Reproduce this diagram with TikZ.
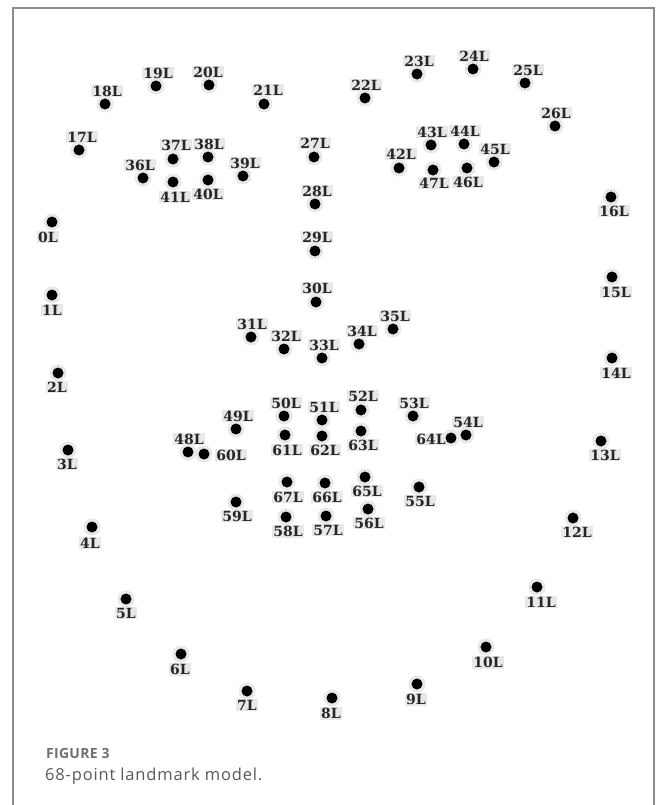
\documentclass[tikz,border=0pt]{standalone}
\usepackage{fontspec}
\newfontfamily\labfont{DejaVu Serif}
\newfontfamily\capfont[LetterSpace=5]{Open Sans}
\newfontfamily\figfont[LetterSpace=2]{Open Sans}
\definecolor{framegray}{RGB}{140,140,140}
\definecolor{capgray}{RGB}{112,112,112}
\definecolor{halo}{RGB}{232,232,232}
\begin{document}
\begin{tikzpicture}[x=1pt,y=-1pt,
  dot/.style={circle,fill=black,minimum size=11pt,inner sep=0pt},
  dothalo/.style={circle,fill=halo,minimum size=17pt,inner sep=0pt},
  lab/.style={font=\labfont\bfseries\fontsize{14}{14}\selectfont,text=black!85,fill=halo,inner sep=1.2pt},
  figlab/.style={font=\figfont\bfseries\fontsize{14}{14}\selectfont,text=capgray,anchor=west,inner sep=0pt},
  captext/.style={font=\capfont\fontsize{16.5}{16.5}\selectfont,text=black!65,anchor=west,inner sep=0pt}]
\useasboundingbox (0,0) rectangle (656,805);
\fill[white] (0,0) rectangle (656,805);
\draw[framegray,line width=2pt] (13,805) -- (13,8) -- (654,8) -- (654,805);
\foreach \n/\x/\y/\lx/\ly in {
0/52/222/48/237, 1/52/295/52/310, 2/58/373/57/387, 3/68/450/67/464,
4/92/527/90/543, 5/126/599/126/613, 6/181/654/180/669, 7/247/691/247/705,
8/332/698/331/713, 9/417/684/416/699, 10/486/647/488/662, 11/537/587/541/602,
12/573/518/577/532, 13/601/441/605/455, 14/612/358/616/373, 15/612/277/616/292,
16/611/197/614/211, 17/79/150/82/137, 18/105/104/107/91, 19/156/86/158/73,
20/209/85/208/72, 21/264/104/268/90, 22/365/98/366/85, 23/417/74/419/61,
24/473/69/474/56, 25/525/83/528/70, 26/555/126/556/113, 27/314/157/315/143,
28/315/204/317/191, 29/315/251/317/237, 30/316/302/317/288, 31/251/337/252/324,
32/284/349/286/336, 33/322/358/324/345, 34/359/344/362/331, 35/393/329/395/316,
36/143/178/140/165, 37/173/159/176/145, 38/208/157/209/144, 39/243/176/245/163,
40/208/180/208/194, 41/173/182/175/197, 42/399/168/401/154, 43/431/145/432/132,
44/464/144/465/131, 45/494/162/495/149, 46/467/168/468/182, 47/433/170/434/183,
48/188/452/189/439, 49/236/429/238/416, 50/284/416/286/403, 51/322/420/324/407,
52/361/410/363/396, 53/413/416/414/403, 54/466/435/468/422, 55/419/487/420/501,
56/368/509/369/523, 57/326/516/328/530, 58/286/517/288/531, 59/236/502/237/516,
60/204/454/231/455, 61/285/435/287/450, 62/322/436/325/450, 63/361/431/363/445,
64/451/438/431/439, 65/365/477/367/491, 66/325/483/327/497, 67/287/482/288/497}{
  \node[dothalo] (h\n) at (\x,\y) {};
}
\foreach \n/\x/\y/\lx/\ly in {
0/52/222/48/237, 1/52/295/52/310, 2/58/373/57/387, 3/68/450/67/464,
4/92/527/90/543, 5/126/599/126/613, 6/181/654/180/669, 7/247/691/247/705,
8/332/698/331/713, 9/417/684/416/699, 10/486/647/488/662, 11/537/587/541/602,
12/573/518/577/532, 13/601/441/605/455, 14/612/358/616/373, 15/612/277/616/292,
16/611/197/614/211, 17/79/150/82/137, 18/105/104/107/91, 19/156/86/158/73,
20/209/85/208/72, 21/264/104/268/90, 22/365/98/366/85, 23/417/74/419/61,
24/473/69/474/56, 25/525/83/528/70, 26/555/126/556/113, 27/314/157/315/143,
28/315/204/317/191, 29/315/251/317/237, 30/316/302/317/288, 31/251/337/252/324,
32/284/349/286/336, 33/322/358/324/345, 34/359/344/362/331, 35/393/329/395/316,
36/143/178/140/165, 37/173/159/176/145, 38/208/157/209/144, 39/243/176/245/163,
40/208/180/208/194, 41/173/182/175/197, 42/399/168/401/154, 43/431/145/432/132,
44/464/144/465/131, 45/494/162/495/149, 46/467/168/468/182, 47/433/170/434/183,
48/188/452/189/439, 49/236/429/238/416, 50/284/416/286/403, 51/322/420/324/407,
52/361/410/363/396, 53/413/416/414/403, 54/466/435/468/422, 55/419/487/420/501,
56/368/509/369/523, 57/326/516/328/530, 58/286/517/288/531, 59/236/502/237/516,
60/204/454/231/455, 61/285/435/287/450, 62/322/436/325/450, 63/361/431/363/445,
64/451/438/431/439, 65/365/477/367/491, 66/325/483/327/497, 67/287/482/288/497}{
  \node[lab] (l\n) at (\lx,\ly) {\n L};
}
\foreach \n/\x/\y in {
0/52/222, 1/52/295, 2/58/373, 3/68/450, 4/92/527, 5/126/599, 6/181/654, 7/247/691,
8/332/698, 9/417/684, 10/486/647, 11/537/587, 12/573/518, 13/601/441, 14/612/358,
15/612/277, 16/611/197, 17/79/150, 18/105/104, 19/156/86, 20/209/85, 21/264/104,
22/365/98, 23/417/74, 24/473/69, 25/525/83, 26/555/126, 27/314/157, 28/315/204,
29/315/251, 30/316/302, 31/251/337, 32/284/349, 33/322/358, 34/359/344, 35/393/329,
36/143/178, 37/173/159, 38/208/157, 39/243/176, 40/208/180, 41/173/182, 42/399/168,
43/431/145, 44/464/144, 45/494/162, 46/467/168, 47/433/170, 48/188/452, 49/236/429,
50/284/416, 51/322/420, 52/361/410, 53/413/416, 54/466/435, 55/419/487, 56/368/509,
57/326/516, 58/286/517, 59/236/502, 60/204/454, 61/285/435, 62/322/436, 63/361/431,
64/451/438, 65/365/477, 66/325/483, 67/287/482}{
  \node[dot] (p\n) at (\x,\y) {};
}
\node[figlab] (fig) at (46,753) {FIGURE 3};
\node[captext] (cap) at (45,776) {68-point landmark model.};
\end{tikzpicture}
\end{document}
